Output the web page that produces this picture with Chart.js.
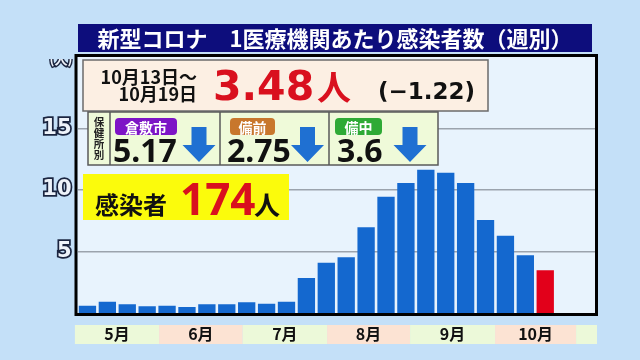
<!DOCTYPE html>
<html>
<head>
<meta charset="utf-8">
<script src="https://cdn.jsdelivr.net/npm/chart.js@4/dist/chart.umd.min.js"></script>
<style>
html, body { margin: 0; padding: 0; background: #c4e0f8; }
canvas { display: block; }
</style>
</head>
<body>
<canvas id="chart" width="640" height="360"></canvas>
<script>
// weekly data (week start dates), last two slots are still empty
const weeks = ['5/5','5/12','5/19','5/26','6/2','6/9','6/16','6/23','6/30','7/7','7/14','7/21',
  '7/28','8/4','8/11','8/18','8/25','9/1','9/8','9/15','9/22','9/29','10/6','10/13','10/20','10/27']
const perClinic = [0.59,0.92,0.71,0.54,0.59,0.49,0.71,0.71,0.87,0.76,0.92,2.84,
  4.09,4.52,6.96,9.45,10.56,11.64,11.40,10.56,7.55,6.28,4.70,3.48,null,null]
const yTicks = [5,10,15]
const monthLabels = ['5月','6月','7月','8月','9月','10月']

// header texts
const titleText = '新型コロナ　1医療機関あたり感染者数（週別）'
const period = ['10月13日～','10月19日']
const latestValue = '3.48'
const latestChange = '(−1.22)'
const centerNames = ['倉敷市','備前','備中']
const centerValues = ['5.17','2.75','3.6']
const weeklyCases = '174'

const CJK = '"Noto Sans CJK JP", sans-serif'
const blue = '#1468cf'
const red = '#e2001a'

// month band edges in week-slot units
const monthEdges = [-0.13, 4.1, 8.3, 12.54, 16.71, 20.98, 25.05, 26.1]
const monthCenters = monthLabels.map((_, i) => (monthEdges[i] + monthEdges[i + 1]) / 2)

const lastIdx = perClinic.reduce((a, v, i) => v != null ? i : a, 0)
const barColors = perClinic.map((v, i) => i === lastIdx ? red : blue)

function arrow(ctx, cx, top) {
    ctx.fillStyle = '#1f70d2'
    ctx.beginPath()
    ctx.moveTo(cx - 7.5, top)
    ctx.lineTo(cx + 7.5, top)
    ctx.lineTo(cx + 7.5, top + 18)
    ctx.lineTo(cx + 16.5, top + 18)
    ctx.lineTo(cx, top + 35)
    ctx.lineTo(cx - 16.5, top + 18)
    ctx.lineTo(cx - 7.5, top + 18)
    ctx.closePath()
    ctx.fill()
}

function pill(ctx, x, y, w, h, color, text) {
    ctx.fillStyle = color
    ctx.beginPath()
    ctx.roundRect(x, y, w, h, 4)
    ctx.fill()
    ctx.fillStyle = '#fff'
    ctx.font = 'bold 14px ' + CJK
    ctx.textAlign = 'center'
    ctx.textBaseline = 'middle'
    ctx.fillText(text, x + w / 2, y + h / 2 + 1)
}

const deco = {
    id: 'deco',
    beforeDraw(chart) {
        const { ctx, chartArea: a } = chart
        ctx.save()
        ctx.fillStyle = '#e8f3fd'
        ctx.fillRect(a.left, a.top, a.right - a.left, a.bottom - a.top)
        // month bands under the axis
        const x2 = chart.scales.x2
        for (let i = 0; i < monthEdges.length - 1; i++) {
            const l = x2.getPixelForValue(monthEdges[i])
            const r = x2.getPixelForValue(monthEdges[i + 1])
            ctx.fillStyle = i % 2 ? '#fce3d3' : '#ecf9d9'
            ctx.fillRect(l, 325, r - l, 19)
        }
        ctx.restore()
    },
    afterDraw(chart) {
        const { ctx, chartArea: a } = chart
        ctx.save()
        // frame
        ctx.strokeStyle = '#000'
        ctx.lineWidth = 3
        ctx.strokeRect(a.left - 1.5, a.top - 1.5, a.right - a.left + 3, a.bottom - a.top + 3)

        // unit label, half hidden
        ctx.save()
        ctx.beginPath()
        ctx.rect(40, 59, 36, 12)
        ctx.clip()
        ctx.font = 'bold 13px ' + CJK
        ctx.textAlign = 'center'
        ctx.textBaseline = 'middle'
        ctx.lineWidth = 3
        ctx.strokeStyle = '#1b2540'
        ctx.strokeText('(人)', 61, 59)
        ctx.fillStyle = '#eef3fa'
        ctx.fillText('(人)', 61, 59)
        ctx.restore()

        // title
        ctx.fillStyle = '#0d0d7c'
        ctx.fillRect(78, 24, 514, 28)
        ctx.fillStyle = '#fff'
        ctx.font = 'bold 22px ' + CJK
        ctx.textAlign = 'center'
        ctx.textBaseline = 'middle'
        ctx.fillText(titleText, 335, 38.5, 492)

        // period box
        ctx.fillStyle = '#fcefe3'
        ctx.fillRect(83, 60, 405, 51)
        ctx.strokeStyle = '#6b6b6b'
        ctx.lineWidth = 1.5
        ctx.strokeRect(83, 60, 405, 51)
        ctx.fillStyle = '#111'
        ctx.font = 'bold 18px ' + CJK
        ctx.textAlign = 'right'
        ctx.fillText(period[0], 197, 77)
        ctx.fillText(period[1], 197, 94)
        ctx.textAlign = 'left'
        ctx.fillStyle = '#d9101e'
        ctx.font = 'bold 41px "DejaVu Sans"'
        ctx.textBaseline = 'alphabetic'
        ctx.fillText(latestValue, 213, 100)
        ctx.font = 'bold 34px ' + CJK
        ctx.textBaseline = 'middle'
        ctx.fillText('人', 317, 87)
        ctx.fillStyle = '#111'
        ctx.font = 'bold 23px "DejaVu Sans"'
        ctx.fillText(latestChange, 378, 93)

        // health centers row
        ctx.fillStyle = '#effad9'
        ctx.fillRect(88, 112, 350, 53)
        ctx.strokeStyle = '#5a5a5a'
        ctx.strokeRect(88, 112, 350, 53)
        ctx.beginPath()
        for (const x of [110, 220, 329]) {
            ctx.moveTo(x, 112)
            ctx.lineTo(x, 165)
        }
        ctx.stroke()
        ctx.fillStyle = '#222'
        ctx.font = 'bold 10.5px ' + CJK
        ctx.textAlign = 'center'
        ;['保','健','所','別'].forEach((c, i) => ctx.fillText(c, 99, 122.5 + i * 10.8))

        const pillX = [115, 230, 335], pillW = [62, 45, 47]
        const pillC = ['#7d14c6', '#c8772c', '#2eaa35']
        const numX = [113, 227, 337], arrowX = [199, 307.5, 410]
        for (let i = 0; i < 3; i++) {
            pill(ctx, pillX[i], 118, pillW[i], 17, pillC[i], centerNames[i])
            ctx.fillStyle = '#111'
            ctx.font = 'bold 32px "Noto Sans"'
            ctx.textAlign = 'left'
            ctx.textBaseline = 'alphabetic'
            ctx.fillText(centerValues[i], numX[i], 162)
            arrow(ctx, arrowX[i], 127)
        }

        // weekly cases box
        ctx.fillStyle = '#fbfb0c'
        ctx.fillRect(83, 174, 206, 46)
        ctx.fillStyle = '#111'
        ctx.font = 'bold 24px ' + CJK
        ctx.textAlign = 'left'
        ctx.textBaseline = 'middle'
        ctx.fillText('感染者', 95, 205)
        ctx.fillStyle = '#d9101e'
        ctx.font = 'bold 44px "Noto Sans"'
        ctx.textBaseline = 'alphabetic'
        ctx.fillText(weeklyCases, 180, 215)
        ctx.fillStyle = '#111'
        ctx.font = 'bold 26px ' + CJK
        ctx.textBaseline = 'middle'
        ctx.fillText('人', 254, 205)
        ctx.restore()
    }
}

new Chart(document.getElementById('chart'), {
    type: 'bar',
    plugins: [deco],
    data: {
        labels: weeks,
        datasets: [{
            data: perClinic,
            backgroundColor: barColors,
            barPercentage: 0.87,
            categoryPercentage: 1
        }]
    },
    options: {
        responsive: false,
        animation: false,
        layout: { padding: { left: 0, right: 45, top: 57, bottom: 0 } },
        plugins: {
            legend: { display: false },
            tooltip: { enabled: false }
        },
        scales: {
            x: { display: false },
            x2: {
                type: 'linear',
                position: 'bottom',
                offset: false,
                min: 0,
                max: 26,
                afterBuildTicks: s => { s.ticks = monthCenters.map(v => ({ value: v })) },
                afterFit: s => { s.height = 47 },
                grid: { display: false, drawTicks: false, offset: false },
                border: { display: false },
                ticks: {
                    autoSkip: false,
                    maxRotation: 0,
                    padding: 11,
                    color: '#111',
                    font: { family: CJK, size: 16, weight: 'bold' },
                    callback: (v, i) => monthLabels[i]
                }
            },
            y: {
                min: 0,
                max: 20.8,
                afterBuildTicks: s => { s.ticks = yTicks.map(v => ({ value: v })) },
                afterFit: s => { s.width = 77.5 },
                grid: { color: '#9ba3ad', lineWidth: 1.5, drawTicks: false },
                border: { display: false },
                ticks: {
                    padding: 6,
                    color: '#eef3fa',
                    textStrokeColor: '#1b2540',
                    textStrokeWidth: 3.5,
                    font: { family: 'DejaVu Sans', size: 21, weight: 'bold' }
                }
            }
        }
    }
})
</script>
</body>
</html>
